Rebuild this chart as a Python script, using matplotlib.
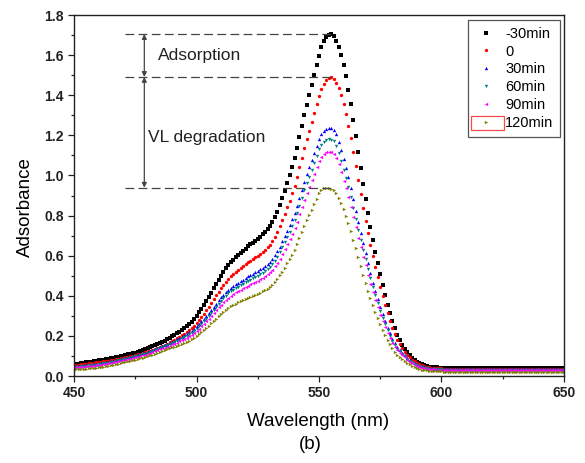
import numpy as np
import matplotlib.pyplot as plt
from matplotlib.patches import Rectangle

plt.rcParams['font.family'] = ['Liberation Sans', 'DejaVu Sans']

# absorbance spectra, 450-650 nm in 1 nm steps
wavelength = np.arange(450, 651)

abs_m30 = [
    0.058, 0.060, 0.062, 0.064, 0.066, 0.068, 0.070, 0.072, 0.074, 0.076,
    0.078, 0.080, 0.082, 0.084, 0.086, 0.088, 0.091, 0.093, 0.096, 0.099,
    0.102, 0.105, 0.108, 0.111, 0.114, 0.117, 0.121, 0.125, 0.129, 0.133,
    0.138, 0.143, 0.148, 0.153, 0.159, 0.165, 0.171, 0.177, 0.183, 0.190,
    0.197, 0.204, 0.212, 0.220, 0.229, 0.238, 0.248, 0.259, 0.271, 0.284,
    0.300, 0.317, 0.335, 0.354, 0.373, 0.393, 0.415, 0.437, 0.459, 0.480,
    0.500, 0.519, 0.537, 0.553, 0.567, 0.580, 0.592, 0.603, 0.614, 0.625,
    0.635, 0.646, 0.656, 0.665, 0.675, 0.685, 0.695, 0.706, 0.718, 0.732,
    0.748, 0.768, 0.792, 0.820, 0.852, 0.887, 0.924, 0.962, 1.000, 1.040,
    1.085, 1.135, 1.190, 1.245, 1.300, 1.352, 1.400, 1.450, 1.500, 1.550,
    1.597, 1.638, 1.668, 1.688, 1.700, 1.705, 1.693, 1.672, 1.640, 1.600,
    1.552, 1.494, 1.428, 1.355, 1.278, 1.198, 1.117, 1.037, 0.959, 0.884,
    0.812, 0.744, 0.680, 0.620, 0.563, 0.508, 0.455, 0.404, 0.356, 0.312,
    0.272, 0.237, 0.206, 0.180, 0.157, 0.137, 0.120, 0.105, 0.092, 0.081,
    0.072, 0.065, 0.059, 0.054, 0.050, 0.047, 0.045, 0.044, 0.043, 0.042,
    0.041, 0.040, 0.040, 0.040, 0.040, 0.040, 0.040, 0.040, 0.040, 0.040,
    0.040, 0.040, 0.040, 0.040, 0.040, 0.040, 0.040, 0.040, 0.040, 0.040,
    0.040, 0.040, 0.040, 0.040, 0.040, 0.040, 0.040, 0.040, 0.040, 0.040,
    0.040, 0.040, 0.040, 0.040, 0.040, 0.040, 0.040, 0.040, 0.040, 0.040,
    0.040, 0.040, 0.040, 0.040, 0.040, 0.040, 0.040, 0.040, 0.040, 0.040,
    0.040,
]

abs_0 = [
    0.053, 0.054, 0.056, 0.058, 0.060, 0.061, 0.063, 0.065, 0.067, 0.068,
    0.070, 0.072, 0.074, 0.075, 0.077, 0.079, 0.082, 0.083, 0.086, 0.089,
    0.091, 0.094, 0.096, 0.099, 0.102, 0.104, 0.108, 0.111, 0.115, 0.118,
    0.123, 0.127, 0.131, 0.136, 0.141, 0.146, 0.151, 0.157, 0.162, 0.168,
    0.174, 0.180, 0.187, 0.194, 0.202, 0.210, 0.219, 0.228, 0.239, 0.250,
    0.264, 0.279, 0.295, 0.311, 0.328, 0.345, 0.364, 0.383, 0.402, 0.421,
    0.438, 0.456, 0.471, 0.485, 0.497, 0.509, 0.519, 0.529, 0.538, 0.548,
    0.556, 0.566, 0.575, 0.583, 0.591, 0.600, 0.609, 0.618, 0.629, 0.641,
    0.655, 0.673, 0.694, 0.718, 0.746, 0.776, 0.809, 0.842, 0.875, 0.910,
    0.949, 0.993, 1.041, 1.089, 1.137, 1.182, 1.224, 1.268, 1.312, 1.355,
    1.396, 1.432, 1.458, 1.476, 1.486, 1.491, 1.480, 1.462, 1.434, 1.399,
    1.357, 1.306, 1.249, 1.185, 1.118, 1.048, 0.977, 0.907, 0.839, 0.774,
    0.711, 0.652, 0.596, 0.543, 0.494, 0.446, 0.399, 0.355, 0.313, 0.275,
    0.240, 0.209, 0.182, 0.159, 0.139, 0.122, 0.107, 0.094, 0.082, 0.073,
    0.065, 0.059, 0.054, 0.049, 0.046, 0.043, 0.041, 0.041, 0.040, 0.039,
    0.038, 0.037, 0.037, 0.037, 0.037, 0.037, 0.037, 0.037, 0.037, 0.037,
    0.037, 0.037, 0.037, 0.037, 0.037, 0.037, 0.037, 0.037, 0.037, 0.037,
    0.037, 0.037, 0.037, 0.037, 0.037, 0.037, 0.037, 0.037, 0.037, 0.037,
    0.037, 0.037, 0.037, 0.037, 0.037, 0.037, 0.037, 0.037, 0.037, 0.037,
    0.037, 0.037, 0.037, 0.037, 0.037, 0.037, 0.037, 0.037, 0.037, 0.037,
    0.037,
]

abs_30 = [
    0.047, 0.048, 0.050, 0.051, 0.053, 0.054, 0.056, 0.057, 0.059, 0.060,
    0.061, 0.064, 0.066, 0.068, 0.070, 0.073, 0.076, 0.078, 0.081, 0.084,
    0.087, 0.090, 0.093, 0.096, 0.099, 0.102, 0.106, 0.109, 0.113, 0.117,
    0.122, 0.126, 0.130, 0.135, 0.140, 0.145, 0.151, 0.155, 0.160, 0.166,
    0.172, 0.177, 0.183, 0.189, 0.196, 0.202, 0.209, 0.217, 0.226, 0.235,
    0.247, 0.259, 0.272, 0.286, 0.299, 0.314, 0.329, 0.345, 0.361, 0.377,
    0.392, 0.406, 0.419, 0.430, 0.440, 0.449, 0.457, 0.465, 0.473, 0.481,
    0.489, 0.497, 0.504, 0.510, 0.518, 0.525, 0.532, 0.540, 0.549, 0.559,
    0.570, 0.585, 0.602, 0.622, 0.645, 0.671, 0.697, 0.725, 0.752, 0.781,
    0.814, 0.850, 0.889, 0.929, 0.969, 1.006, 1.041, 1.077, 1.113, 1.149,
    1.183, 1.208, 1.224, 1.234, 1.238, 1.236, 1.227, 1.205, 1.169, 1.128,
    1.081, 1.039, 0.991, 0.938, 0.883, 0.825, 0.766, 0.714, 0.662, 0.613,
    0.561, 0.512, 0.466, 0.423, 0.382, 0.342, 0.307, 0.273, 0.241, 0.212,
    0.186, 0.164, 0.145, 0.129, 0.115, 0.104, 0.092, 0.081, 0.072, 0.064,
    0.057, 0.052, 0.048, 0.044, 0.041, 0.039, 0.038, 0.037, 0.036, 0.035,
    0.035, 0.034, 0.034, 0.034, 0.034, 0.034, 0.034, 0.034, 0.034, 0.034,
    0.034, 0.034, 0.034, 0.034, 0.034, 0.034, 0.034, 0.034, 0.034, 0.034,
    0.034, 0.034, 0.034, 0.034, 0.034, 0.034, 0.034, 0.034, 0.034, 0.034,
    0.034, 0.034, 0.034, 0.034, 0.034, 0.034, 0.034, 0.034, 0.034, 0.034,
    0.034, 0.034, 0.034, 0.034, 0.034, 0.034, 0.034, 0.034, 0.034, 0.034,
    0.034,
]

abs_60 = [
    0.044, 0.046, 0.047, 0.049, 0.050, 0.051, 0.053, 0.054, 0.055, 0.057,
    0.058, 0.061, 0.063, 0.065, 0.067, 0.069, 0.072, 0.075, 0.078, 0.080,
    0.083, 0.086, 0.089, 0.092, 0.095, 0.098, 0.101, 0.105, 0.108, 0.112,
    0.117, 0.121, 0.124, 0.129, 0.134, 0.139, 0.144, 0.149, 0.154, 0.159,
    0.165, 0.170, 0.176, 0.181, 0.187, 0.193, 0.200, 0.208, 0.216, 0.225,
    0.236, 0.248, 0.260, 0.273, 0.286, 0.300, 0.315, 0.330, 0.345, 0.360,
    0.375, 0.389, 0.401, 0.412, 0.422, 0.431, 0.439, 0.446, 0.453, 0.460,
    0.467, 0.475, 0.481, 0.488, 0.495, 0.501, 0.508, 0.516, 0.524, 0.534,
    0.545, 0.559, 0.575, 0.594, 0.617, 0.641, 0.666, 0.692, 0.718, 0.746,
    0.777, 0.812, 0.849, 0.887, 0.925, 0.961, 0.994, 1.029, 1.063, 1.097,
    1.130, 1.153, 1.169, 1.178, 1.181, 1.179, 1.171, 1.149, 1.114, 1.074,
    1.029, 0.989, 0.943, 0.893, 0.840, 0.785, 0.729, 0.679, 0.630, 0.584,
    0.534, 0.487, 0.443, 0.402, 0.362, 0.325, 0.291, 0.259, 0.229, 0.201,
    0.177, 0.156, 0.137, 0.123, 0.110, 0.099, 0.087, 0.077, 0.068, 0.060,
    0.054, 0.049, 0.045, 0.042, 0.039, 0.037, 0.035, 0.035, 0.034, 0.033,
    0.033, 0.032, 0.032, 0.032, 0.032, 0.032, 0.032, 0.032, 0.032, 0.032,
    0.032, 0.032, 0.032, 0.032, 0.032, 0.032, 0.032, 0.032, 0.032, 0.032,
    0.032, 0.032, 0.032, 0.032, 0.032, 0.032, 0.032, 0.032, 0.032, 0.032,
    0.032, 0.032, 0.032, 0.032, 0.032, 0.032, 0.032, 0.032, 0.032, 0.032,
    0.032, 0.032, 0.032, 0.032, 0.032, 0.032, 0.032, 0.032, 0.032, 0.032,
    0.032,
]

abs_90 = [
    0.042, 0.043, 0.044, 0.046, 0.047, 0.048, 0.050, 0.051, 0.052, 0.054,
    0.055, 0.057, 0.059, 0.061, 0.063, 0.065, 0.068, 0.071, 0.074, 0.076,
    0.079, 0.081, 0.084, 0.087, 0.090, 0.093, 0.096, 0.100, 0.103, 0.107,
    0.111, 0.115, 0.119, 0.123, 0.128, 0.133, 0.138, 0.142, 0.146, 0.152,
    0.158, 0.162, 0.167, 0.173, 0.178, 0.184, 0.191, 0.198, 0.206, 0.214,
    0.225, 0.236, 0.248, 0.260, 0.272, 0.286, 0.299, 0.314, 0.328, 0.342,
    0.356, 0.369, 0.381, 0.391, 0.400, 0.409, 0.417, 0.424, 0.431, 0.438,
    0.444, 0.451, 0.457, 0.463, 0.470, 0.476, 0.483, 0.490, 0.498, 0.507,
    0.517, 0.530, 0.546, 0.564, 0.585, 0.608, 0.632, 0.657, 0.682, 0.708,
    0.737, 0.770, 0.806, 0.842, 0.878, 0.912, 0.943, 0.976, 1.008, 1.041,
    1.072, 1.094, 1.108, 1.116, 1.119, 1.117, 1.109, 1.088, 1.055, 1.016,
    0.972, 0.935, 0.891, 0.844, 0.793, 0.741, 0.688, 0.641, 0.595, 0.551,
    0.504, 0.460, 0.418, 0.379, 0.342, 0.306, 0.274, 0.244, 0.215, 0.190,
    0.167, 0.147, 0.129, 0.115, 0.103, 0.093, 0.082, 0.072, 0.064, 0.057,
    0.051, 0.046, 0.042, 0.039, 0.037, 0.035, 0.033, 0.033, 0.032, 0.031,
    0.031, 0.030, 0.030, 0.030, 0.030, 0.030, 0.030, 0.030, 0.030, 0.030,
    0.030, 0.030, 0.030, 0.030, 0.030, 0.030, 0.030, 0.030, 0.030, 0.030,
    0.030, 0.030, 0.030, 0.030, 0.030, 0.030, 0.030, 0.030, 0.030, 0.030,
    0.030, 0.030, 0.030, 0.030, 0.030, 0.030, 0.030, 0.030, 0.030, 0.030,
    0.030, 0.030, 0.030, 0.030, 0.030, 0.030, 0.030, 0.030, 0.030, 0.030,
    0.030,
]

abs_120 = [
    0.032, 0.033, 0.034, 0.035, 0.036, 0.037, 0.038, 0.040, 0.041, 0.042,
    0.043, 0.045, 0.047, 0.050, 0.052, 0.054, 0.057, 0.059, 0.062, 0.065,
    0.068, 0.071, 0.073, 0.076, 0.079, 0.082, 0.085, 0.089, 0.092, 0.095,
    0.099, 0.103, 0.107, 0.111, 0.115, 0.120, 0.124, 0.129, 0.133, 0.138,
    0.143, 0.147, 0.151, 0.156, 0.161, 0.166, 0.171, 0.177, 0.184, 0.191,
    0.200, 0.209, 0.219, 0.229, 0.240, 0.250, 0.262, 0.274, 0.286, 0.298,
    0.310, 0.321, 0.331, 0.340, 0.348, 0.355, 0.361, 0.367, 0.373, 0.378,
    0.384, 0.390, 0.395, 0.400, 0.405, 0.411, 0.416, 0.422, 0.429, 0.436,
    0.445, 0.456, 0.469, 0.484, 0.502, 0.521, 0.541, 0.562, 0.583, 0.605,
    0.630, 0.657, 0.687, 0.717, 0.748, 0.776, 0.802, 0.830, 0.857, 0.885,
    0.910, 0.926, 0.935, 0.939, 0.939, 0.934, 0.928, 0.911, 0.889, 0.862,
    0.831, 0.799, 0.763, 0.723, 0.680, 0.637, 0.592, 0.548, 0.506, 0.465,
    0.425, 0.388, 0.353, 0.320, 0.289, 0.259, 0.231, 0.206, 0.181, 0.159,
    0.139, 0.122, 0.107, 0.095, 0.084, 0.075, 0.066, 0.058, 0.051, 0.045,
    0.040, 0.036, 0.032, 0.030, 0.028, 0.026, 0.025, 0.024, 0.024, 0.023,
    0.023, 0.022, 0.022, 0.022, 0.022, 0.022, 0.022, 0.022, 0.022, 0.022,
    0.022, 0.022, 0.022, 0.022, 0.022, 0.022, 0.022, 0.022, 0.022, 0.022,
    0.022, 0.022, 0.022, 0.022, 0.022, 0.022, 0.022, 0.022, 0.022, 0.022,
    0.022, 0.022, 0.022, 0.022, 0.022, 0.022, 0.022, 0.022, 0.022, 0.022,
    0.022, 0.022, 0.022, 0.022, 0.022, 0.022, 0.022, 0.022, 0.022, 0.022,
    0.022,
]

labels = ['-30min', '0', '30min', '60min', '90min', '120min']
colors = ['#000000', '#ff0000', '#0000ff', '#008080', '#ff00ff', '#808000']
markers = ['s', 'o', '^', 'v', '<', '>']
series = [abs_m30, abs_0, abs_30, abs_60, abs_90, abs_120]

fig = plt.figure(figsize=(5.85, 4.63), dpi=100)
ax = fig.add_axes([0.1265, 0.1879, 0.8376, 0.7797])

for y, lab, c, m in zip(series, labels, colors, markers):
    ax.plot(wavelength, y, linestyle='none', marker=m, markersize=2.4,
            markeredgewidth=0, color=c, label=lab)

ax.set_xlim(450, 650)
ax.set_ylim(0, 1.8)

xt = np.arange(450, 651, 50)
yt = np.arange(0, 1.81, 0.2)
ax.set_xticks(xt)
ax.set_xticklabels([str(v) for v in xt], fontweight='bold')
ax.set_yticks(yt)
ax.set_yticklabels(['%.1f' % v for v in yt], fontweight='bold')
ax.set_xticks(np.arange(450, 651, 25), minor=True)
ax.set_yticks(np.arange(0, 1.81, 0.1), minor=True)
ax.tick_params(which='both', direction='out', top=False, right=False,
               colors='#222222', labelsize=10, width=0.9)
ax.tick_params(which='major', length=4.5, pad=3)
ax.tick_params(which='minor', length=2.5)
for sp in ax.spines.values():
    sp.set_linewidth(1.0)
    sp.set_color('#222222')

fig.text(0.5436, 0.0907, 'Wavelength (nm)', fontsize=13.5, ha='center', va='center')
fig.text(0.5300, 0.0389, '(b)', fontsize=13.5, ha='center', va='center')
fig.text(0.0430, 0.5530, 'Adsorbance', fontsize=13.5, rotation=90,
         ha='center', va='center')

# peak levels marking adsorption and visible-light degradation
top = max(abs_m30)
mid = max(abs_0)
low = max(abs_120)
for lvl in (top, mid, low):
    ax.plot([471, 555], [lvl, lvl], color='#444444', lw=0.9,
            dashes=(7, 3.5))
arrow = dict(arrowstyle='<|-|>', color='#444444', lw=0.9,
             mutation_scale=7, shrinkA=0, shrinkB=0)
ax.annotate('', xy=(478.7, top), xytext=(478.7, mid), arrowprops=arrow)
ax.annotate('', xy=(478.7, mid), xytext=(478.7, low), arrowprops=arrow)
ax.text(484.4, 1.60, 'Adsorption', fontsize=12.5, va='center', color='#222222')
ax.text(480.3, 1.19, 'VL degradation', fontsize=12.5, va='center', color='#222222')

leg = ax.legend(loc='upper right', bbox_to_anchor=(0.992, 0.986), fontsize=10.5,
                frameon=True, fancybox=False, edgecolor='#555555', framealpha=1,
                borderpad=0.45, handlelength=1.6, handletextpad=0.5,
                labelspacing=0.27, borderaxespad=0, numpoints=1)
leg.get_frame().set_linewidth(0.9)

# selection box around the last legend entry
fig.patches.append(Rectangle((471 / 585, 1 - 130 / 463), 33 / 585, 14 / 463,
                             transform=fig.transFigure, fill=False,
                             edgecolor='#ff4a4a', linewidth=0.9))

fig.savefig('out.png', dpi=100)
